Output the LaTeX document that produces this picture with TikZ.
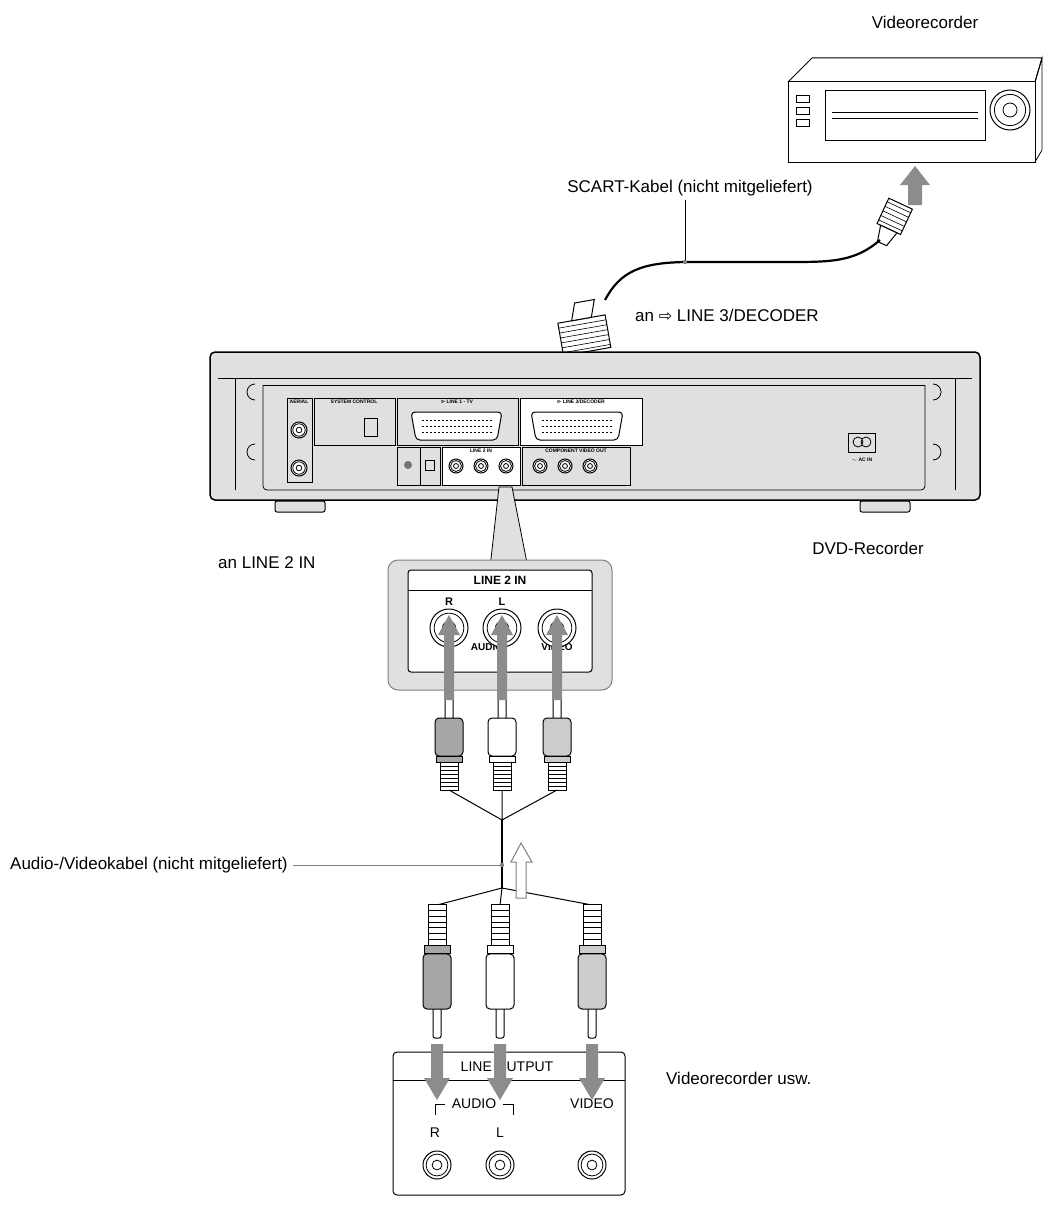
\documentclass[tikz,border=0pt]{standalone}
\usepackage{fontspec}
\setmainfont{Liberation Sans}
\newfontfamily\djvfont{DejaVu Sans}
\usetikzlibrary{arrows.meta}
\definecolor{pg}{gray}{0.88}
\definecolor{ag}{gray}{0.55}
\definecolor{dg}{gray}{0.45}
\tikzset{
 lbl/.style={font=\fontsize{17}{19}\selectfont,inner sep=0pt},
 tiny/.style={font=\fontsize{5}{5}\selectfont\bfseries,inner sep=0pt},
 rca/.pic={
  \draw[line width=1pt,fill=white,rounded corners=2pt] (-4,0) rectangle (4,22);
  \draw[line width=1pt,fill=#1,rounded corners=4pt] (-14,20) rectangle (14,58);
  \draw[line width=1pt,fill=#1] (-13,58) rectangle (13,64);
  \draw[line width=1pt,fill=white] (-9,64) rectangle (9,92);
  \foreach \k in {68,72,...,88} \draw[line width=0.8pt] (-9,\k) -- (9,\k);
 },
 jack/.pic={
  \draw[line width=1pt,fill=white] (0,0) circle (#1);
  \draw[line width=0.8pt] (0,0) circle (0.78*#1);
  \draw[line width=0.8pt] (0,0) circle (0.35*#1);
 },
 uparrow/.pic={\fill[ag] (-5,0) -- (-5,-65) -- (-11,-65) -- (0,-85) -- (11,-65) -- (5,-65) -- (5,0) -- cycle;},
 downarrow/.pic={\fill[ag] (-6,0) -- (-6,34) -- (-13,34) -- (0,56) -- (13,34) -- (6,34) -- (6,0) -- cycle;},
}
\begin{document}
\begin{tikzpicture}[x=1pt,y=-1pt]
\useasboundingbox (0,0) rectangle (1053,1228);
% ---------- VCR top right
\node[lbl] (vcrt) at (925,22) {Videorecorder};
\draw[line width=1pt,fill=white,line join=round] (788,82) -- (812,58) -- (1042,58) -- (1035,82) -- cycle;
\draw[line width=1pt,fill=white] (788,82) rectangle (1035,162);
\draw[line width=0.8pt] (1035,82) -- (1042,58) -- (1042,150) -- (1035,162);
\draw[line width=0.7pt] (825,90) rectangle (985,140);
\draw[line width=0.6pt] (832,112) -- (978,112) (832,118) -- (978,118);
\foreach \yy in {95,107,119} \draw[line width=0.7pt] (796,\yy) rectangle (809,\yy+7);
\pic at (1010,110) {jack=20};
% arrow up to VCR
\fill[ag] (908,205) -- (908,185) -- (900,185) -- (915,166) -- (930,185) -- (922,185) -- (922,205) -- cycle;
% right scart plug
\begin{scope}[shift={(893,220)},rotate=-25]
\draw[line width=1pt,fill=white] (-13,-18) rectangle (13,10);
\foreach \k in {-14,-9,...,6} \draw[line width=0.6pt] (-13,\k) -- (13,\k);
\draw[line width=1pt,fill=white] (-9,10) -- (9,10) -- (5,26) -- (-5,26) -- cycle;
\end{scope}
% cable
\coordinate (c1) at (880,240);
\coordinate (c2) at (605,300);
\draw[line width=2.2pt] (c1) .. controls (855,262) and (830,262) .. (790,262) -- (690,262) .. controls (640,262) and (620,272) .. (c2);
\draw[line width=0.8pt] (685,262) -- (685,200);
\fill[gray] (685,262) circle (2.2pt);
\node[lbl] (scl) at (690,188) {SCART-Kabel (nicht mitgeliefert)};
% left scart plug
\begin{scope}[shift={(582,322)},rotate=10]
\draw[line width=1pt,fill=white] (-24,-3) rectangle (24,30);
\foreach \k in {2,7,...,27} \draw[line width=0.6pt] (-24,\k) -- (24,\k);
\draw[line width=1pt,fill=white] (-10,-3) -- (10,-3) -- (16,-20) -- (-4,-20) -- cycle;
\end{scope}
\node[lbl,anchor=west] (l3) at (635,315) {an {\djvfont\fontsize{16}{16}\selectfont ⇨} LINE 3/DECODER};
\fill[ag] (580,352) -- (590,352) -- (590,405) -- (598,405) -- (585,425) -- (572,405) -- (580,405) -- cycle;
% ---------- DVD recorder
\draw[line width=1.5pt,fill=pg,rounded corners=5pt] (210,352) rectangle (980,500);
\draw[line width=0.8pt] (218,378) -- (972,378);
\draw[line width=0.8pt] (235,378) -- (235,490) (955,378) -- (955,490);
\draw[line width=0.8pt,rounded corners=4pt] (263,385) -- (263,490) -- (925,490) -- (925,385);
\draw[line width=0.8pt] (263,385) -- (925,385);
\draw[line width=0.8pt] (255,400) arc (90:270:8) (255,460) arc (90:270:8);
\draw[line width=0.8pt] (933,400) arc (90:-90:8) (933,460) arc (90:-90:8);
% feet
\foreach \fx in {300,885} {\draw[line width=1pt,fill=pg,rounded corners=2pt] (\fx-25,501) rectangle (\fx+25,512);}
% ports
\draw[line width=0.7pt] (287,398) rectangle (312,482);
\node[tiny] at (299,402) {AERIAL};
\pic at (299,430) {jack=8}; \pic at (299,468) {jack=8};
\draw[line width=0.7pt] (314,398) rectangle (395,445);
\node[tiny] at (354,402) {SYSTEM CONTROL};
\draw[line width=0.7pt] (364,418) rectangle (377,436);
\draw[line width=0.7pt] (397,398) rectangle (518,445);
\node[tiny] at (457,402) {{\djvfont ⊳} LINE 1 - TV};
\draw[line width=1pt,rounded corners=4pt,fill=white] (411,412) -- (502,412) -- (497,440) -- (416,440) -- cycle;
\foreach \k in {420,426,432} \draw[line width=0.6pt,dash pattern=on 2pt off 2pt] (422,\k) -- (493,\k);
\draw[line width=0.7pt,fill=white] (520,398) rectangle (642,445);
\node[tiny] at (581,402) {{\djvfont ⊳} LINE 3/DECODER};
\draw[line width=1pt,rounded corners=4pt,fill=white] (531,412) -- (623,412) -- (618,440) -- (536,440) -- cycle;
\foreach \k in {420,426,432} \draw[line width=0.6pt,dash pattern=on 2pt off 2pt] (542,\k) -- (613,\k);
\draw[line width=0.7pt] (397,447) rectangle (420,485);
\fill[dg] (408,465) circle (4);
\draw[line width=0.7pt] (420,447) rectangle (440,485);
\draw[line width=0.7pt] (425,460) rectangle (434,470);
\draw[line width=0.7pt,fill=white] (442,447) rectangle (520,485);
\node[tiny] at (481,451) {LINE 2 IN};
\pic at (456,466) {jack=7}; \pic at (481,466) {jack=7}; \pic at (506,466) {jack=7};
\draw[line width=0.7pt] (522,447) rectangle (630,485);
\node[tiny] at (576,451) {COMPONENT VIDEO OUT};
\pic at (540,466) {jack=7}; \pic at (565,466) {jack=7}; \pic at (590,466) {jack=7};
\draw[line width=1pt] (848,433) rectangle (875,452);
\draw[line width=0.8pt] (858,442) circle (5) (866,442) circle (5);
\node[tiny] at (862,460) {$\sim$ AC IN};
\node[lbl] (dvdl) at (868,548) {DVD-Recorder};
% ---------- LINE 2 IN callout
\draw[line width=0.8pt,fill=pg] (490,568) -- (499,487) -- (512,487) -- (528,568) -- cycle;
\draw[line width=1pt,draw=gray,fill=pg,rounded corners=10pt] (388,560) rectangle (612,690);
\draw[line width=1pt,fill=white,rounded corners=3pt] (408,570) rectangle (592,672);
\draw[line width=1pt] (408,590) -- (592,590);
\node[font=\fontsize{12}{12}\selectfont\bfseries] at (500,580) {LINE 2 IN};
\node[font=\fontsize{11}{11}\selectfont\bfseries] at (449,602) {R};
\node[font=\fontsize{11}{11}\selectfont\bfseries] at (502,602) {L};
\node[font=\fontsize{10}{10}\selectfont\bfseries] at (487,647) {AUDIO};
\node[font=\fontsize{10}{10}\selectfont\bfseries] at (557,647) {VIDEO};
\pic at (449,628) {jack=19}; \pic at (502,628) {jack=19}; \pic at (557,628) {jack=19};
\node[lbl,anchor=west] (l2) at (218,563) {an LINE 2 IN};
% top plugs and arrows
\pic at (449,698) {rca=gray!70};
\pic at (502,698) {rca=white};
\pic at (557,698) {rca=gray!40};
\foreach \xx in {449,502,557} \pic at (\xx,700) {uparrow};
% cables
\coordinate (j1) at (502,820);
\coordinate (j2) at (502,888);
\draw[line width=1pt] (449,790) -- (j1) -- (557,790) (502,790) -- (j1);
\draw[line width=2.2pt] (j1) -- (j2);
\draw[line width=1pt] (437,905) -- (j2) -- (592,905) (500,905) -- (j2);
\node[lbl,anchor=west] (avl) at (10,865) {Audio-/Videokabel (nicht mitgeliefert)};
\draw[line width=0.8pt,draw=gray] (avl.east) ++(5,0) -- (502,865);
\fill[gray] (502,865) circle (2.2pt);
\draw[line width=1pt,draw=gray,fill=white] (516,898) -- (516,862) -- (511,862) -- (521,843) -- (532,862) -- (526,862) -- (526,898) -- cycle;
% bottom plugs
\pic[yscale=-1.45] at (437,1038) {rca=gray!70};
\pic[yscale=-1.45] at (500,1038) {rca=white};
\pic[yscale=-1.45] at (592,1038) {rca=gray!40};
% bottom box
\draw[line width=1pt,rounded corners=4pt] (393,1052) rectangle (625,1195);
\draw[line width=1pt] (393,1080) -- (625,1080);
\node[font=\fontsize{14}{14}\selectfont] at (507,1067) {LINE OUTPUT};
\foreach \xx in {437,500,592} \pic at (\xx,1044) {downarrow};
\draw[line width=0.8pt] (435,1115) -- (435,1104) -- (445,1104) (503,1104) -- (513,1104) -- (513,1115);
\node[font=\fontsize{14}{14}\selectfont] at (474,1104) {AUDIO};
\node[font=\fontsize{14}{14}\selectfont] at (592,1104) {VIDEO};
\node[font=\fontsize{14}{14}\selectfont] at (435,1133) {R};
\node[font=\fontsize{14}{14}\selectfont] at (500,1133) {L};
\pic at (437,1165) {jack=14}; \pic at (500,1165) {jack=14}; \pic at (592,1165) {jack=14};
\node[lbl,anchor=west] (vru) at (666,1078) {Videorecorder usw.};
\end{tikzpicture}
\end{document}
